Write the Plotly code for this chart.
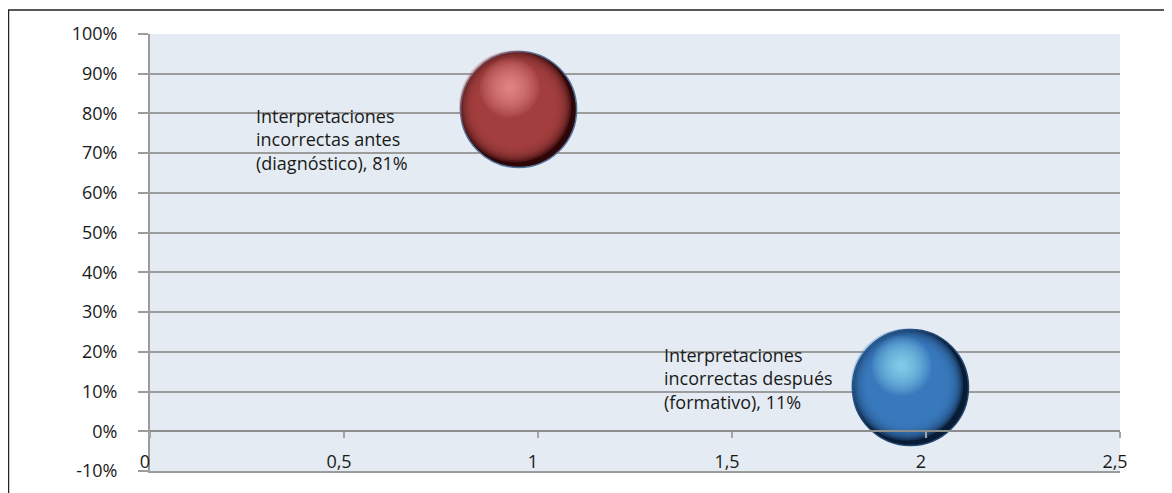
import plotly.graph_objects as go

# ---- data ----
labels = ["Interpretaciones<br>incorrectas antes<br>(diagnóstico), 81%",
          "Interpretaciones<br>incorrectas después<br>(formativo), 11%"]
x_vals = [0.95, 1.96]
y_vals = [0.81, 0.11]
x_ticks = [0, 0.5, 1, 1.5, 2, 2.5]
x_tick_labels = ["0", "0,5", "1", "1,5", "2", "2,5"]
y_ticks = [-0.1, 0, 0.1, 0.2, 0.3, 0.4, 0.5, 0.6, 0.7, 0.8, 0.9, 1.0]
y_tick_labels = ["-10%", "0%", "10%", "20%", "30%", "40%", "50%",
                 "60%", "70%", "80%", "90%", "100%"]

# styles
body_colors = ["#a84243", "#3d7dc3"]
edge_colors = ["#2e0608", "#081c36"]
hi_colors = ["#ffa0a0", "#a8ecff"]
outline = ["#4f729a", "#1f4470"]

FONT = "Open Sans"
fig = go.Figure()


def disc(x, y, size, color, opacity=1.0, line=None):
    fig.add_trace(go.Scatter(
        x=[x], y=[y], mode="markers",
        marker=dict(size=size, color=color, opacity=opacity,
                    line=line or dict(width=0)),
        hoverinfo="skip", showlegend=False))


for i in range(len(x_vals)):
    # dark rim of the sphere
    disc(x_vals[i], y_vals[i], 116, edge_colors[i],
         line=dict(color=outline[i], width=1.5))
    # body colour fading in from the rim (shifted up-left so the right side stays dark)
    for s in range(112, 76, -4):
        disc(x_vals[i] - 0.009, y_vals[i] + 0.008, s, body_colors[i], 0.3)
    # soft highlight built from stacked translucent discs
    for s in range(60, 4, -4):
        disc(x_vals[i] - 0.023, y_vals[i] + 0.055, s, hi_colors[i], 0.08)

# empty trace so the bottom frame axis is rendered
fig.add_trace(go.Scatter(x=[], y=[], xaxis="x2", yaxis="y",
                         hoverinfo="skip", showlegend=False))

shifts = [(-265, -30), (-248, 9)]
for i in range(len(x_vals)):
    fig.add_annotation(x=x_vals[i], y=y_vals[i], text=labels[i],
                       xanchor="left", yanchor="middle", align="left",
                       xshift=shifts[i][0], yshift=shifts[i][1],
                       showarrow=False,
                       font=dict(family=FONT, size=18, color="#1a1a1a"))

# outer border
fig.add_shape(type="rect", xref="paper", yref="paper",
              x0=-0.1459, x1=1.2, y0=-0.2, y1=1.0549,
              line=dict(color="#222222", width=1.5), layer="below")

fig.update_layout(
    width=1164, height=485,
    margin=dict(l=142, r=52, t=26, b=22, autoexpand=False),
    paper_bgcolor="white", plot_bgcolor="#e4ebf2",
    font=dict(family=FONT, size=18, color="#1a1a1a"),
    xaxis=dict(range=[0, 2.5], tickvals=x_ticks, ticktext=x_tick_labels,
               anchor="free", position=0.1 / 1.1, automargin=False,
               showgrid=False, zeroline=False,
               showline=True, linecolor="#8d8d8d", linewidth=2,
               ticks="outside", ticklen=6, tickwidth=1.5, tickcolor="#a5a5a5",
               ticklabelstandoff=8, ticklabelshift=-5, fixedrange=True),
    xaxis2=dict(range=[0, 2.5], overlaying="x", anchor="y", side="bottom",
                showline=True, linecolor="#9c9c9c", linewidth=2,
                showgrid=False, zeroline=False, showticklabels=False,
                ticks="", automargin=False, fixedrange=True),
    yaxis=dict(range=[-0.1, 1.0], tickvals=y_ticks, ticktext=y_tick_labels,
               automargin=False,
               showgrid=True, gridcolor="#9c9c9c", gridwidth=1.5,
               zeroline=True, zerolinecolor="#8d8d8d", zerolinewidth=2,
               showline=True, linecolor="#9c9c9c", linewidth=2,
               ticks="outside", ticklen=10, tickwidth=1.5, tickcolor="#9c9c9c",
               ticklabelstandoff=17, fixedrange=True),
)

fig.write_html("out.html")
